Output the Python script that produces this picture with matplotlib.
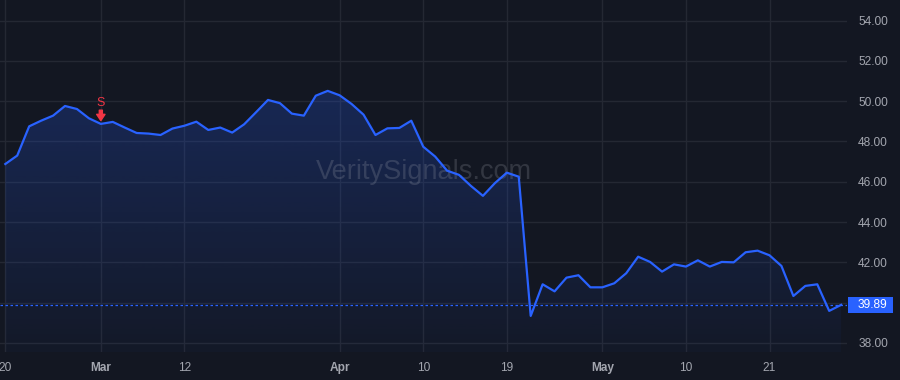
import numpy as np
import pandas as pd
import matplotlib
matplotlib.use("Agg")
import matplotlib.pyplot as plt
from matplotlib.colors import LinearSegmentedColormap
from matplotlib.patches import Rectangle
from matplotlib import transforms

# trading days (Feb 20 - May 30 2024, minus Good Friday / Memorial Day)
dates = pd.bdate_range("2024-02-20", "2024-05-30")
dates = dates[~dates.isin(pd.to_datetime(["2024-03-29", "2024-05-27"]))]

prices = [46.88, 47.30, 48.75, 49.03, 49.28, 49.76, 49.61, 49.15, 48.87, 48.97,
          48.69, 48.42, 48.39, 48.32, 48.64, 48.78, 48.98, 48.57, 48.69, 48.44,
          48.85, 49.45, 50.06, 49.90, 49.38, 49.28, 50.27, 50.51, 50.29, 49.86,
          49.33, 48.32, 48.65, 48.67, 49.03, 47.74, 47.25, 46.55, 46.34, 45.79,
          45.30, 45.93, 46.45, 46.25, 39.34, 40.91, 40.56, 41.24, 41.36, 40.76,
          40.76, 40.96, 41.46, 42.28, 42.02, 41.54, 41.90, 41.79, 42.10, 41.79,
          42.02, 42.00, 42.50, 42.58, 42.35, 41.82, 40.33, 40.83, 40.91, 39.59,
          39.89]

tick_dates = ["2024-02-20", "2024-03-01", "2024-03-12", "2024-04-01", "2024-04-10",
              "2024-04-19", "2024-05-01", "2024-05-10", "2024-05-21"]
y_ticks = [38, 40, 42, 44, 46, 48, 50, 52, 54]
signal_date = "2024-03-01"
signal_label = "S"
watermark = "VeritySignals.com"

BG = "#131722"
GRID = "#242833"
LINE = "#2962ff"
TXT = "#a3a6af"
RED = "#f23645"

plt.rcParams["font.family"] = ["Liberation Sans", "DejaVu Sans"]

fig = plt.figure(figsize=(9, 3.8), dpi=100, facecolor=BG)
ax = fig.add_axes([0, 28 / 380, 847 / 900, 352 / 380])
ax.set_facecolor(BG)

x = np.arange(len(prices))
ymin, ymax = 37.55, 55.02
xmin, xmax = -0.444, 70.49

# gradient fill under the line
poly = ax.fill_between(x, prices, ymin, color="none", lw=0)
grad = np.linspace(0, 1, 256).reshape(-1, 1)
cmap = LinearSegmentedColormap.from_list(
    "fade", [(41 / 255, 98 / 255, 1, 0.03), (41 / 255, 98 / 255, 1, 0.30)])
img = ax.imshow(grad, cmap=cmap, aspect="auto", origin="lower",
                extent=[xmin, xmax, ymin, ymax], zorder=1)
img.set_clip_path(poly.get_paths()[0], transform=ax.transData)

ax.plot(x, prices, color=LINE, lw=1.6, zorder=3, solid_joinstyle="round")

# last price
last_price = prices[-1]
ax.axhline(last_price, color=LINE, lw=0.9, linestyle=(0, (2, 2)), zorder=2)
blend = transforms.blended_transform_factory(ax.transAxes, ax.transData)
ax.add_patch(Rectangle((1 + 1 / 847, last_price - 0.40), 45 / 847, 0.80,
                       transform=blend, clip_on=False, color=LINE, lw=0))
ax.text(1 + 11 / 847, last_price, f"{last_price:.2f}", transform=blend,
        ha="left", va="center", color="white", fontsize=8.6, clip_on=False)

# signal marker
si = list(dates).index(pd.Timestamp(signal_date))
tip = transforms.offset_copy(ax.transData, fig=fig, x=0, y=2.4, units="points")
ax.annotate("", xy=(si, prices[si]), xycoords=tip, xytext=(0, 7.5),
            textcoords="offset points",
            arrowprops=dict(arrowstyle="simple,head_length=0.45,head_width=0.6,tail_width=0.22",
                            color=RED, shrinkA=0, shrinkB=0, mutation_scale=10),
            zorder=5)
ax.annotate(signal_label, xy=(si, prices[si]), xytext=(0, 14.8),
            textcoords="offset points", ha="center", va="center",
            color=RED, fontsize=9, zorder=5)

# watermark
ax.text(0.5, 0.511, watermark, transform=ax.transAxes, ha="center", va="center",
        fontsize=19.5, color="#b2b5be", alpha=0.2, zorder=1.5)

# axes
tick_idx = [list(dates).index(pd.Timestamp(d)) for d in tick_dates]
ax.set_xticks(tick_idx)
labels = []
for d in tick_dates:
    t = pd.Timestamp(d)
    labels.append(t.strftime("%b") if t.day == 1 else str(t.day))
ax.set_xticklabels(labels)
for lab, d in zip(ax.get_xticklabels(), tick_dates):
    if pd.Timestamp(d).day == 1:
        lab.set_fontweight("bold")

ax.set_yticks(y_ticks)
ax.set_yticklabels([f"{v:.2f}" for v in y_ticks])
ax.yaxis.tick_right()
ax.tick_params(axis="y", length=0, pad=8, labelsize=8.6, colors=TXT)
ax.tick_params(axis="x", length=0, pad=7, labelsize=8.6, colors=TXT)

ax.grid(True, color=GRID, lw=1)
ax.set_axisbelow(True)
for s in ax.spines.values():
    s.set_visible(False)

ax.set_xlim(xmin, xmax)
ax.set_ylim(ymin, ymax)

fig.savefig("out.png", dpi=100, facecolor=BG)
